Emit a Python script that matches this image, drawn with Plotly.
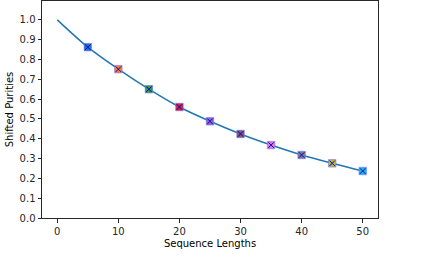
import plotly.graph_objects as go

# Data
seq_lengths = [5, 10, 15, 20, 25, 30, 35, 40, 45, 50]
purities = [0.862, 0.751, 0.650, 0.560, 0.488, 0.424, 0.368, 0.318, 0.276, 0.237]
fit_x = [0, 5, 10, 15, 20, 25, 30, 35, 40, 45, 50]
fit_y = [1.0, 0.862, 0.751, 0.650, 0.560, 0.488, 0.424, 0.368, 0.318, 0.276, 0.237]
point_colors = ["#1f77b4", "#ff7f0e", "#2ca02c", "#d62728", "#9467bd",
                "#8c564b", "#e377c2", "#7f7f7f", "#bcbd22", "#17becf"]
y_ticks = [0.0, 0.1, 0.2, 0.3, 0.4, 0.5, 0.6, 0.7, 0.8, 0.9, 1.0]
x_ticks = [0, 10, 20, 30, 40, 50]

fig = go.Figure()
fig.add_trace(go.Scatter(x=fit_x, y=fit_y, mode="lines",
                         line=dict(color="#1f77b4", width=1.5, shape="spline", smoothing=0.8),
                         showlegend=False, hoverinfo="skip"))
fig.add_trace(go.Scatter(x=seq_lengths, y=purities, mode="markers",
                         marker=dict(symbol="square", size=7.5, color=point_colors,
                                     line=dict(color="rgba(120,120,255,0.6)", width=1)),
                         showlegend=False))
fig.add_trace(go.Scatter(x=seq_lengths, y=purities, mode="markers",
                         marker=dict(symbol="x-thin", size=5.5,
                                     line=dict(color="#0000ff", width=1)),
                         showlegend=False))

axis_common = dict(showline=True, linecolor="#262626", linewidth=1, mirror=True,
                   ticks="outside", ticklen=3.5, tickwidth=0.8, tickcolor="#262626",
                   showgrid=False, zeroline=False, automargin=False,
                   tickfont=dict(family="DejaVu Sans", size=10, color="#262626"),
                   title_font=dict(family="DejaVu Sans", size=10, color="#000000"))

fig.update_xaxes(range=[-2.5, 52.5], tickvals=x_ticks, ticktext=[str(v) for v in x_ticks],
                 title_text="Sequence Lengths", title_standoff=4, **axis_common)
fig.update_yaxes(range=[0, 1.095], tickvals=y_ticks, ticktext=[f"{v:.1f}" for v in y_ticks],
                 title_text="Shifted Purities", title_standoff=4, **axis_common)

fig.update_layout(width=426, height=261, margin=dict(l=42, r=48, t=1, b=43),
                  paper_bgcolor="white", plot_bgcolor="white",
                  font=dict(family="DejaVu Sans", size=10))

fig.write_html("out.html", config={"displayModeBar": False},
               post_script="document.body.style.margin='0';document.body.style.padding='0';")
